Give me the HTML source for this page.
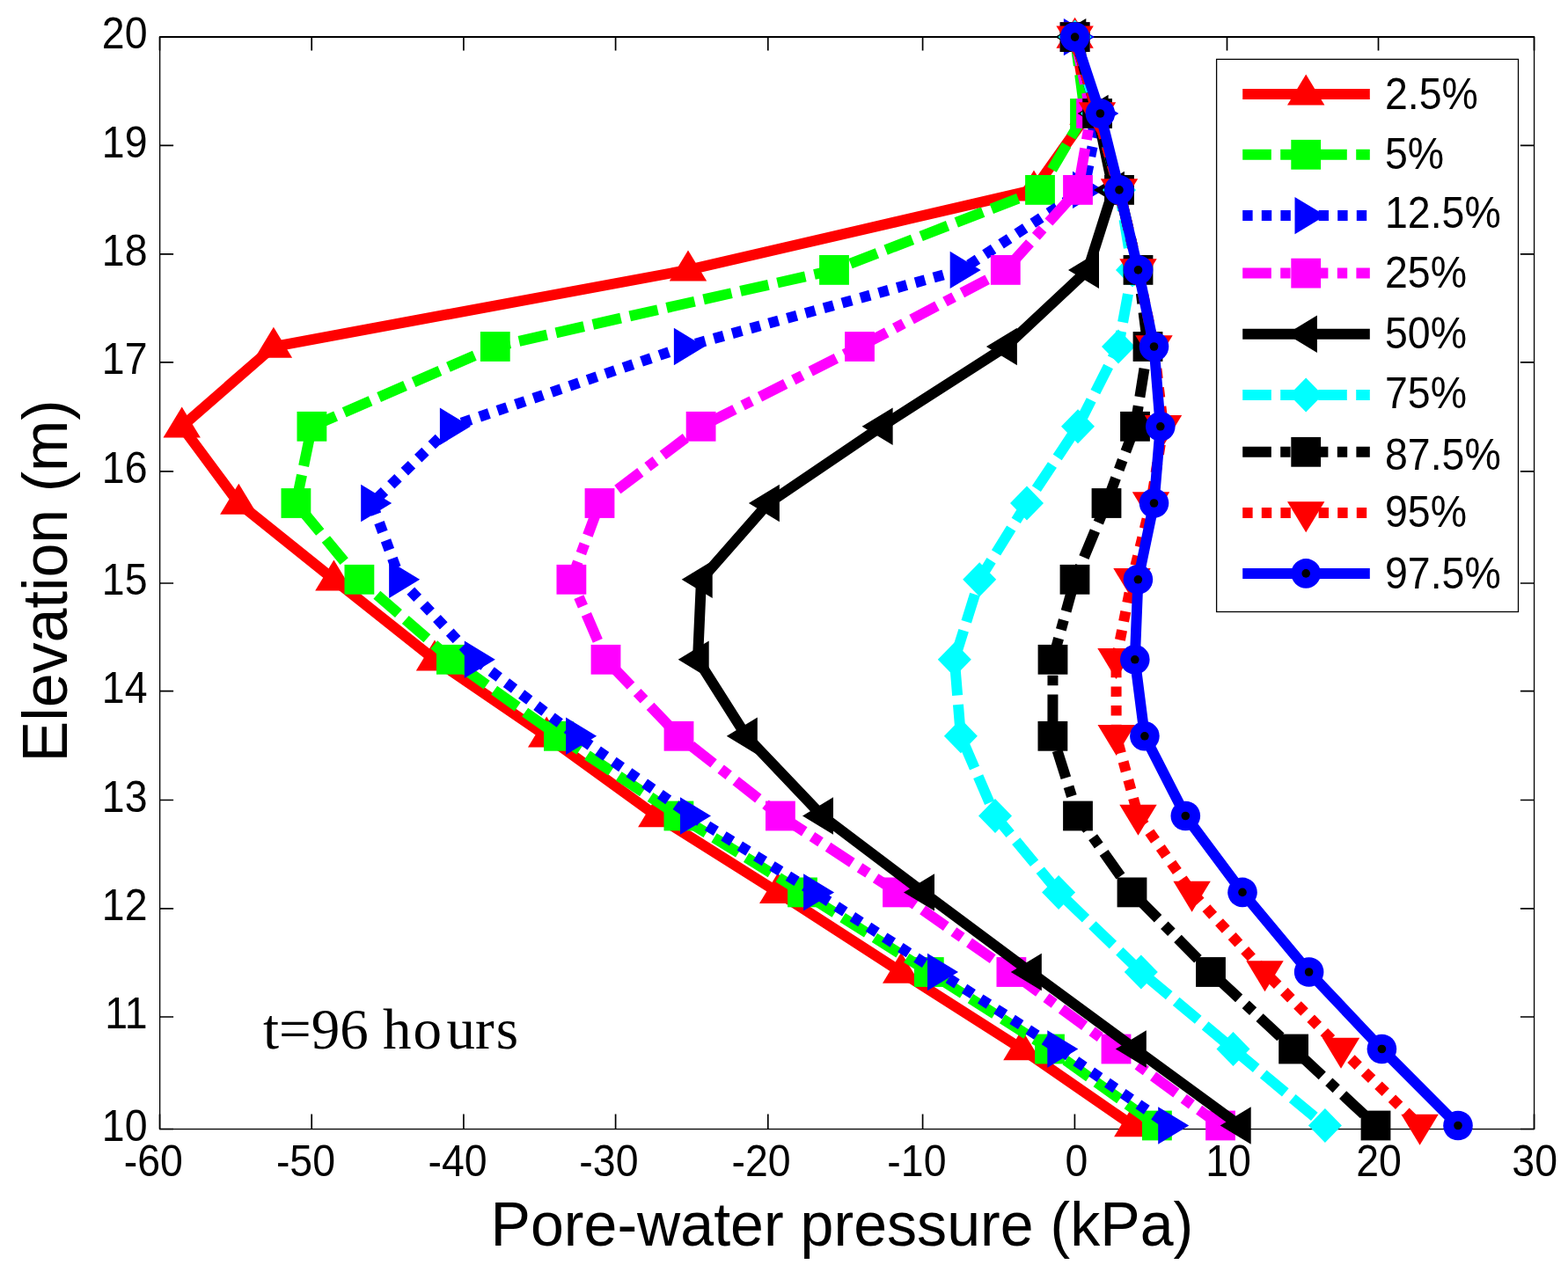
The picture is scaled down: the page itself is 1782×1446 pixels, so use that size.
<!DOCTYPE html><html><head><meta charset="utf-8"><title>Pore-water pressure profile</title><style>html,body{margin:0;padding:0;background:#fff;}svg{display:block;}text{font-family:"Liberation Sans",Arial,Helvetica,sans-serif;fill:#000;}.serif{font-family:"Liberation Serif","Times New Roman",serif;}</style></head><body>
<svg width="1782" height="1446" viewBox="0 0 1782 1446">
<rect x="0" y="0" width="1782" height="1446" fill="#fff"/>
<g fill="#000">
<rect x="181" y="41" width="1563" height="2"/>
<rect x="181" y="41" width="1.3" height="1243"/>
<rect x="1742.9" y="41" width="1.3" height="1243"/>
<rect x="181" y="1282.9" width="1563" height="1.3"/>
</g>
<g stroke="#000" stroke-width="1.7" fill="none">
<path d="M181.5 1283.5V1266.5M181.5 42V57.6"/>
<path d="M354.2 1283.5V1266.5M354.2 42V57.6"/>
<path d="M526.9 1283.5V1266.5M526.9 42V57.6"/>
<path d="M699.6 1283.5V1266.5M699.6 42V57.6"/>
<path d="M872.8 1283.5V1266.5M872.8 42V57.6"/>
<path d="M1048.6 1283.5V1266.5M1048.6 42V57.6"/>
<path d="M1221.4 1283.5V1266.5M1221.4 42V57.6"/>
<path d="M1394.5 1283.5V1266.5M1394.5 42V57.6"/>
<path d="M1566.5 1283.5V1266.5M1566.5 42V57.6"/>
<path d="M1743.5 1283.5V1266.5M1743.5 42V57.6"/>
<path d="M181.5 42H197.1M1743.5 42H1727.9"/>
<path d="M181.5 165.3H197.1M1743.5 165.3H1727.9"/>
<path d="M181.5 288.8H197.1M1743.5 288.8H1727.9"/>
<path d="M181.5 411.8H197.1M1743.5 411.8H1727.9"/>
<path d="M181.5 535.8H197.1M1743.5 535.8H1727.9"/>
<path d="M181.5 663H197.1M1743.5 663H1727.9"/>
<path d="M181.5 785.6H197.1M1743.5 785.6H1727.9"/>
<path d="M181.5 909.5H197.1M1743.5 909.5H1727.9"/>
<path d="M181.5 1032.8H197.1M1743.5 1032.8H1727.9"/>
<path d="M181.5 1156H197.1M1743.5 1156H1727.9"/>
<path d="M181.5 1283.5H197.1M1743.5 1283.5H1727.9"/>
</g>
<text transform="translate(174.35 1336.8) scale(0.946 1)" font-size="49.1" text-anchor="middle">-60</text>
<text transform="translate(347.45 1336.8) scale(0.946 1)" font-size="49.1" text-anchor="middle">-50</text>
<text transform="translate(520 1336.8) scale(0.946 1)" font-size="49.1" text-anchor="middle">-40</text>
<text transform="translate(691.9 1336.8) scale(0.946 1)" font-size="49.1" text-anchor="middle">-30</text>
<text transform="translate(865 1336.8) scale(0.946 1)" font-size="49.1" text-anchor="middle">-20</text>
<text transform="translate(1041.9 1336.8) scale(0.946 1)" font-size="49.1" text-anchor="middle">-10</text>
<text transform="translate(1223.5 1336.8) scale(0.946 1)" font-size="49.1" text-anchor="middle">0</text>
<text transform="translate(1396.1 1336.8) scale(0.946 1)" font-size="49.1" text-anchor="middle">10</text>
<text transform="translate(1567 1336.8) scale(0.946 1)" font-size="49.1" text-anchor="middle">20</text>
<text transform="translate(1744.2 1336.8) scale(0.946 1)" font-size="49.1" text-anchor="middle">30</text>
<text transform="translate(167.5 1296.7) scale(0.946 1)" font-size="49.1" text-anchor="end">10</text>
<text transform="translate(167.5 1169.2) scale(0.946 1)" font-size="49.1" text-anchor="end">11</text>
<text transform="translate(167.5 1046) scale(0.946 1)" font-size="49.1" text-anchor="end">12</text>
<text transform="translate(167.5 922.7) scale(0.946 1)" font-size="49.1" text-anchor="end">13</text>
<text transform="translate(167.5 798.8) scale(0.946 1)" font-size="49.1" text-anchor="end">14</text>
<text transform="translate(167.5 676.2) scale(0.946 1)" font-size="49.1" text-anchor="end">15</text>
<text transform="translate(167.5 549) scale(0.946 1)" font-size="49.1" text-anchor="end">16</text>
<text transform="translate(167.5 425) scale(0.946 1)" font-size="49.1" text-anchor="end">17</text>
<text transform="translate(167.5 302) scale(0.946 1)" font-size="49.1" text-anchor="end">18</text>
<text transform="translate(167.5 178.5) scale(0.946 1)" font-size="49.1" text-anchor="end">19</text>
<text transform="translate(167.5 55.2) scale(0.946 1)" font-size="49.1" text-anchor="end">20</text>
<polyline points="1221.6,42.1 1236.5,129 1175,215.9 782,306.9 310.9,394 206.7,484.8 271.3,572 379.4,658.8 494,749.8 621.2,836.8 746.3,927.5 884.2,1014.4 1024.2,1105 1161.4,1192.5 1287.3,1279.5" fill="none" stroke="#ff0000" stroke-width="12" stroke-linejoin="miter" stroke-miterlimit="2"/>
<g><polygon points="1221.6,19.8 1200.4,54.8 1242.8,54.8" fill="#ff0000"/><polygon points="1236.5,106.7 1215.3,141.7 1257.7,141.7" fill="#ff0000"/><polygon points="1175,193.6 1153.8,228.6 1196.2,228.6" fill="#ff0000"/><polygon points="782,284.6 760.8,319.6 803.2,319.6" fill="#ff0000"/><polygon points="310.9,371.7 289.7,406.7 332.1,406.7" fill="#ff0000"/><polygon points="206.7,462.5 185.5,497.5 227.9,497.5" fill="#ff0000"/><polygon points="271.3,549.7 250.1,584.7 292.5,584.7" fill="#ff0000"/><polygon points="379.4,636.5 358.2,671.5 400.6,671.5" fill="#ff0000"/><polygon points="494,727.5 472.8,762.5 515.2,762.5" fill="#ff0000"/><polygon points="621.2,814.5 600,849.5 642.4,849.5" fill="#ff0000"/><polygon points="746.3,905.2 725.1,940.2 767.5,940.2" fill="#ff0000"/><polygon points="884.2,992.1 863,1027.1 905.4,1027.1" fill="#ff0000"/><polygon points="1024.2,1082.7 1003,1117.7 1045.4,1117.7" fill="#ff0000"/><polygon points="1161.4,1170.2 1140.2,1205.2 1182.6,1205.2" fill="#ff0000"/><polygon points="1287.3,1257.2 1266.1,1292.2 1308.5,1292.2" fill="#ff0000"/></g>
<polyline points="1221.6,42.1 1233,129 1182,215.9 948,306.9 562.8,394 354.4,484.8 336.4,572 408.4,658.8 512.9,749.8 634.9,836.8 771.4,927.5 912,1014.4 1055.8,1105 1193,1192.5 1314.9,1279.5" fill="none" stroke="#00ff00" stroke-width="12" stroke-linejoin="miter" stroke-miterlimit="2" stroke-dasharray="32.6 10.4"/>
<g><rect x="1204.7" y="25.2" width="33.8" height="33.8" fill="#00ff00"/><rect x="1216.1" y="112.1" width="33.8" height="33.8" fill="#00ff00"/><rect x="1165.1" y="199" width="33.8" height="33.8" fill="#00ff00"/><rect x="931.1" y="290" width="33.8" height="33.8" fill="#00ff00"/><rect x="545.9" y="377.1" width="33.8" height="33.8" fill="#00ff00"/><rect x="337.5" y="467.9" width="33.8" height="33.8" fill="#00ff00"/><rect x="319.5" y="555.1" width="33.8" height="33.8" fill="#00ff00"/><rect x="391.5" y="641.9" width="33.8" height="33.8" fill="#00ff00"/><rect x="496" y="732.9" width="33.8" height="33.8" fill="#00ff00"/><rect x="618" y="819.9" width="33.8" height="33.8" fill="#00ff00"/><rect x="754.5" y="910.6" width="33.8" height="33.8" fill="#00ff00"/><rect x="895.1" y="997.5" width="33.8" height="33.8" fill="#00ff00"/><rect x="1038.9" y="1088.1" width="33.8" height="33.8" fill="#00ff00"/><rect x="1176.1" y="1175.6" width="33.8" height="33.8" fill="#00ff00"/><rect x="1298" y="1262.6" width="33.8" height="33.8" fill="#00ff00"/></g>
<polyline points="1221.6,42.1 1249.1,129 1231.7,215.9 1092.4,306.9 778.6,394 512.6,484.8 422.9,572 454.8,658.8 540.5,749.8 655.8,836.8 785.7,927.5 925.8,1014.4 1066.7,1105 1203,1192.5 1328.9,1279.5" fill="none" stroke="#0000ff" stroke-width="12" stroke-linejoin="miter" stroke-miterlimit="2" stroke-dasharray="11.4 10.2"/>
<g><polygon points="1243.9,42.1 1208.9,20.9 1208.9,63.3" fill="#0000ff"/><polygon points="1271.4,129 1236.4,107.8 1236.4,150.2" fill="#0000ff"/><polygon points="1254,215.9 1219,194.7 1219,237.1" fill="#0000ff"/><polygon points="1114.7,306.9 1079.7,285.7 1079.7,328.1" fill="#0000ff"/><polygon points="800.9,394 765.9,372.8 765.9,415.2" fill="#0000ff"/><polygon points="534.9,484.8 499.9,463.6 499.9,506" fill="#0000ff"/><polygon points="445.2,572 410.2,550.8 410.2,593.2" fill="#0000ff"/><polygon points="477.1,658.8 442.1,637.6 442.1,680" fill="#0000ff"/><polygon points="562.8,749.8 527.8,728.6 527.8,771" fill="#0000ff"/><polygon points="678.1,836.8 643.1,815.6 643.1,858" fill="#0000ff"/><polygon points="808,927.5 773,906.3 773,948.7" fill="#0000ff"/><polygon points="948.1,1014.4 913.1,993.2 913.1,1035.6" fill="#0000ff"/><polygon points="1089,1105 1054,1083.8 1054,1126.2" fill="#0000ff"/><polygon points="1225.3,1192.5 1190.3,1171.3 1190.3,1213.7" fill="#0000ff"/><polygon points="1351.2,1279.5 1316.2,1258.3 1316.2,1300.7" fill="#0000ff"/></g>
<polyline points="1221.6,42.1 1240.1,129 1225,215.9 1142.8,306.9 977,394 796.6,484.8 681.5,572 649.4,658.8 688.5,749.8 771.5,836.8 886.9,927.5 1020,1014.4 1149.4,1105 1268.5,1192.5 1387,1279.5" fill="none" stroke="#ff00ff" stroke-width="12" stroke-linejoin="miter" stroke-miterlimit="2" stroke-dasharray="32.6 10.4 11.4 10.2"/>
<g><rect x="1204.7" y="25.2" width="33.8" height="33.8" fill="#ff00ff"/><rect x="1223.2" y="112.1" width="33.8" height="33.8" fill="#ff00ff"/><rect x="1208.1" y="199" width="33.8" height="33.8" fill="#ff00ff"/><rect x="1125.9" y="290" width="33.8" height="33.8" fill="#ff00ff"/><rect x="960.1" y="377.1" width="33.8" height="33.8" fill="#ff00ff"/><rect x="779.7" y="467.9" width="33.8" height="33.8" fill="#ff00ff"/><rect x="664.6" y="555.1" width="33.8" height="33.8" fill="#ff00ff"/><rect x="632.5" y="641.9" width="33.8" height="33.8" fill="#ff00ff"/><rect x="671.6" y="732.9" width="33.8" height="33.8" fill="#ff00ff"/><rect x="754.6" y="819.9" width="33.8" height="33.8" fill="#ff00ff"/><rect x="870" y="910.6" width="33.8" height="33.8" fill="#ff00ff"/><rect x="1003.1" y="997.5" width="33.8" height="33.8" fill="#ff00ff"/><rect x="1132.5" y="1088.1" width="33.8" height="33.8" fill="#ff00ff"/><rect x="1251.6" y="1175.6" width="33.8" height="33.8" fill="#ff00ff"/><rect x="1370.1" y="1262.6" width="33.8" height="33.8" fill="#ff00ff"/></g>
<polyline points="1221.6,42.1 1246.9,129 1265.2,215.9 1236.3,306.9 1143.2,394 1001.9,484.8 873.2,572 797,658.8 793,749.8 848.1,836.8 934.3,927.5 1049.3,1014.4 1171.1,1105 1290.1,1192.5 1409,1279.5" fill="none" stroke="#000000" stroke-width="12" stroke-linejoin="miter" stroke-miterlimit="2"/>
<g><polygon points="1199.3,42.1 1234.3,20.9 1234.3,63.3" fill="#000000"/><polygon points="1224.6,129 1259.6,107.8 1259.6,150.2" fill="#000000"/><polygon points="1242.9,215.9 1277.9,194.7 1277.9,237.1" fill="#000000"/><polygon points="1214,306.9 1249,285.7 1249,328.1" fill="#000000"/><polygon points="1120.9,394 1155.9,372.8 1155.9,415.2" fill="#000000"/><polygon points="979.6,484.8 1014.6,463.6 1014.6,506" fill="#000000"/><polygon points="850.9,572 885.9,550.8 885.9,593.2" fill="#000000"/><polygon points="774.7,658.8 809.7,637.6 809.7,680" fill="#000000"/><polygon points="770.7,749.8 805.7,728.6 805.7,771" fill="#000000"/><polygon points="825.8,836.8 860.8,815.6 860.8,858" fill="#000000"/><polygon points="912,927.5 947,906.3 947,948.7" fill="#000000"/><polygon points="1027,1014.4 1062,993.2 1062,1035.6" fill="#000000"/><polygon points="1148.8,1105 1183.8,1083.8 1183.8,1126.2" fill="#000000"/><polygon points="1267.8,1192.5 1302.8,1171.3 1302.8,1213.7" fill="#000000"/><polygon points="1386.7,1279.5 1421.7,1258.3 1421.7,1300.7" fill="#000000"/></g>
<polyline points="1221.6,42.1 1247,129 1272,215.9 1287,306.9 1271,394 1225,484.8 1167,572 1113.2,658.8 1084.8,749.8 1091.9,836.8 1131,927.5 1203.1,1014.4 1296.8,1105 1401.5,1192.5 1505.9,1279.5" fill="none" stroke="#00ffff" stroke-width="12" stroke-linejoin="miter" stroke-miterlimit="2" stroke-dasharray="32.6 10.4"/>
<g><polygon points="1221.6,22.6 1240.6,42.1 1221.6,61.6 1202.6,42.1" fill="#00ffff"/><polygon points="1247,109.5 1266,129 1247,148.5 1228,129" fill="#00ffff"/><polygon points="1272,196.4 1291,215.9 1272,235.4 1253,215.9" fill="#00ffff"/><polygon points="1287,287.4 1306,306.9 1287,326.4 1268,306.9" fill="#00ffff"/><polygon points="1271,374.5 1290,394 1271,413.5 1252,394" fill="#00ffff"/><polygon points="1225,465.3 1244,484.8 1225,504.3 1206,484.8" fill="#00ffff"/><polygon points="1167,552.5 1186,572 1167,591.5 1148,572" fill="#00ffff"/><polygon points="1113.2,639.3 1132.2,658.8 1113.2,678.3 1094.2,658.8" fill="#00ffff"/><polygon points="1084.8,730.3 1103.8,749.8 1084.8,769.3 1065.8,749.8" fill="#00ffff"/><polygon points="1091.9,817.3 1110.9,836.8 1091.9,856.3 1072.9,836.8" fill="#00ffff"/><polygon points="1131,908 1150,927.5 1131,947 1112,927.5" fill="#00ffff"/><polygon points="1203.1,994.9 1222.1,1014.4 1203.1,1033.9 1184.1,1014.4" fill="#00ffff"/><polygon points="1296.8,1085.5 1315.8,1105 1296.8,1124.5 1277.8,1105" fill="#00ffff"/><polygon points="1401.5,1173 1420.5,1192.5 1401.5,1212 1382.5,1192.5" fill="#00ffff"/><polygon points="1505.9,1260 1524.9,1279.5 1505.9,1299 1486.9,1279.5" fill="#00ffff"/></g>
<polyline points="1221.6,42.1 1247.1,129 1272,215.9 1293.5,306.9 1304.5,394 1290,484.8 1257.5,572 1221.5,658.8 1196.5,749.8 1196.4,836.8 1225,927.5 1286.5,1014.4 1376,1105 1470.1,1192.5 1563.5,1279.5" fill="none" stroke="#000000" stroke-width="12" stroke-linejoin="miter" stroke-miterlimit="2" stroke-dasharray="32.6 10.4 11.4 10.2"/>
<g><rect x="1204.7" y="25.2" width="33.8" height="33.8" fill="#000000"/><rect x="1230.2" y="112.1" width="33.8" height="33.8" fill="#000000"/><rect x="1255.1" y="199" width="33.8" height="33.8" fill="#000000"/><rect x="1276.6" y="290" width="33.8" height="33.8" fill="#000000"/><rect x="1287.6" y="377.1" width="33.8" height="33.8" fill="#000000"/><rect x="1273.1" y="467.9" width="33.8" height="33.8" fill="#000000"/><rect x="1240.6" y="555.1" width="33.8" height="33.8" fill="#000000"/><rect x="1204.6" y="641.9" width="33.8" height="33.8" fill="#000000"/><rect x="1179.6" y="732.9" width="33.8" height="33.8" fill="#000000"/><rect x="1179.5" y="819.9" width="33.8" height="33.8" fill="#000000"/><rect x="1208.1" y="910.6" width="33.8" height="33.8" fill="#000000"/><rect x="1269.6" y="997.5" width="33.8" height="33.8" fill="#000000"/><rect x="1359.1" y="1088.1" width="33.8" height="33.8" fill="#000000"/><rect x="1453.2" y="1175.6" width="33.8" height="33.8" fill="#000000"/><rect x="1546.6" y="1262.6" width="33.8" height="33.8" fill="#000000"/></g>
<polyline points="1221.6,42.1 1247,129 1272,215.9 1293.5,306.9 1311.5,394 1322,484.8 1308,572 1286.5,658.8 1268.5,749.8 1268.7,836.8 1293.5,927.5 1354.6,1014.4 1437.5,1105 1524,1192.5 1613.6,1279.5" fill="none" stroke="#ff0000" stroke-width="12" stroke-linejoin="miter" stroke-miterlimit="2" stroke-dasharray="11.4 10.2"/>
<g><polygon points="1221.6,64.4 1200.4,29.4 1242.8,29.4" fill="#ff0000"/><polygon points="1247,151.3 1225.8,116.3 1268.2,116.3" fill="#ff0000"/><polygon points="1272,238.2 1250.8,203.2 1293.2,203.2" fill="#ff0000"/><polygon points="1293.5,329.2 1272.3,294.2 1314.7,294.2" fill="#ff0000"/><polygon points="1311.5,416.3 1290.3,381.3 1332.7,381.3" fill="#ff0000"/><polygon points="1322,507.1 1300.8,472.1 1343.2,472.1" fill="#ff0000"/><polygon points="1308,594.3 1286.8,559.3 1329.2,559.3" fill="#ff0000"/><polygon points="1286.5,681.1 1265.3,646.1 1307.7,646.1" fill="#ff0000"/><polygon points="1268.5,772.1 1247.3,737.1 1289.7,737.1" fill="#ff0000"/><polygon points="1268.7,859.1 1247.5,824.1 1289.9,824.1" fill="#ff0000"/><polygon points="1293.5,949.8 1272.3,914.8 1314.7,914.8" fill="#ff0000"/><polygon points="1354.6,1036.7 1333.4,1001.7 1375.8,1001.7" fill="#ff0000"/><polygon points="1437.5,1127.3 1416.3,1092.3 1458.7,1092.3" fill="#ff0000"/><polygon points="1524,1214.8 1502.8,1179.8 1545.2,1179.8" fill="#ff0000"/><polygon points="1613.6,1301.8 1592.4,1266.8 1634.8,1266.8" fill="#ff0000"/></g>
<polyline points="1221.6,42.1 1250.4,129 1272,215.9 1293.5,306.9 1311.5,394 1318.8,484.8 1311.5,572 1293.4,658.8 1289.8,749.8 1300.9,836.8 1347.3,927.5 1412,1014.4 1487.6,1105 1570.4,1192.5 1657,1279.5" fill="none" stroke="#0000ff" stroke-width="12" stroke-linejoin="miter" stroke-miterlimit="2"/>
<g><circle cx="1221.6" cy="42.1" r="16.8" fill="#0000ff"/><circle cx="1221.6" cy="42.1" r="4.8" fill="#000"/><circle cx="1250.4" cy="129" r="16.8" fill="#0000ff"/><circle cx="1250.4" cy="129" r="4.8" fill="#000"/><circle cx="1272" cy="215.9" r="16.8" fill="#0000ff"/><circle cx="1272" cy="215.9" r="4.8" fill="#000"/><circle cx="1293.5" cy="306.9" r="16.8" fill="#0000ff"/><circle cx="1293.5" cy="306.9" r="4.8" fill="#000"/><circle cx="1311.5" cy="394" r="16.8" fill="#0000ff"/><circle cx="1311.5" cy="394" r="4.8" fill="#000"/><circle cx="1318.8" cy="484.8" r="16.8" fill="#0000ff"/><circle cx="1318.8" cy="484.8" r="4.8" fill="#000"/><circle cx="1311.5" cy="572" r="16.8" fill="#0000ff"/><circle cx="1311.5" cy="572" r="4.8" fill="#000"/><circle cx="1293.4" cy="658.8" r="16.8" fill="#0000ff"/><circle cx="1293.4" cy="658.8" r="4.8" fill="#000"/><circle cx="1289.8" cy="749.8" r="16.8" fill="#0000ff"/><circle cx="1289.8" cy="749.8" r="4.8" fill="#000"/><circle cx="1300.9" cy="836.8" r="16.8" fill="#0000ff"/><circle cx="1300.9" cy="836.8" r="4.8" fill="#000"/><circle cx="1347.3" cy="927.5" r="16.8" fill="#0000ff"/><circle cx="1347.3" cy="927.5" r="4.8" fill="#000"/><circle cx="1412" cy="1014.4" r="16.8" fill="#0000ff"/><circle cx="1412" cy="1014.4" r="4.8" fill="#000"/><circle cx="1487.6" cy="1105" r="16.8" fill="#0000ff"/><circle cx="1487.6" cy="1105" r="4.8" fill="#000"/><circle cx="1570.4" cy="1192.5" r="16.8" fill="#0000ff"/><circle cx="1570.4" cy="1192.5" r="4.8" fill="#000"/><circle cx="1657" cy="1279.5" r="16.8" fill="#0000ff"/><circle cx="1657" cy="1279.5" r="4.8" fill="#000"/></g>
<rect x="1382.6" y="67.4" width="342.9" height="628.1" fill="#fff" stroke="#000" stroke-width="1.3"/>
<line x1="1412.2" y1="106.9" x2="1556.8" y2="106.9" stroke="#ff0000" stroke-width="12"/>
<polygon points="1484.2,84.6 1463,119.6 1505.4,119.6" fill="#ff0000"/>
<text transform="translate(1574 124) scale(0.946 1)" font-size="49.1">2.5%</text>
<line x1="1412.2" y1="175.8" x2="1556.8" y2="175.8" stroke="#00ff00" stroke-width="12" stroke-dasharray="32.6 10.4"/>
<rect x="1467.3" y="158.9" width="33.8" height="33.8" fill="#00ff00"/>
<text transform="translate(1574 192.4) scale(0.946 1)" font-size="49.1">5%</text>
<line x1="1412.2" y1="245.1" x2="1556.8" y2="245.1" stroke="#0000ff" stroke-width="12" stroke-dasharray="11.4 10.2"/>
<polygon points="1506.5,245.1 1471.5,223.9 1471.5,266.3" fill="#0000ff"/>
<text transform="translate(1574 258.5) scale(0.946 1)" font-size="49.1">12.5%</text>
<line x1="1412.2" y1="310.6" x2="1556.8" y2="310.6" stroke="#ff00ff" stroke-width="12" stroke-dasharray="32.6 10.4 11.4 10.2"/>
<rect x="1467.3" y="293.7" width="33.8" height="33.8" fill="#ff00ff"/>
<text transform="translate(1574 326.7) scale(0.946 1)" font-size="49.1">25%</text>
<line x1="1412.2" y1="379.7" x2="1556.8" y2="379.7" stroke="#000000" stroke-width="12"/>
<polygon points="1461.9,379.7 1496.9,358.5 1496.9,400.9" fill="#000000"/>
<text transform="translate(1574 395.6) scale(0.946 1)" font-size="49.1">50%</text>
<line x1="1412.2" y1="449" x2="1556.8" y2="449" stroke="#00ffff" stroke-width="12" stroke-dasharray="32.6 10.4"/>
<polygon points="1484.2,429.5 1503.2,449 1484.2,468.5 1465.2,449" fill="#00ffff"/>
<text transform="translate(1574 464.3) scale(0.946 1)" font-size="49.1">75%</text>
<line x1="1412.2" y1="513.8" x2="1556.8" y2="513.8" stroke="#000000" stroke-width="12" stroke-dasharray="32.6 10.4 11.4 10.2"/>
<rect x="1467.3" y="496.9" width="33.8" height="33.8" fill="#000000"/>
<text transform="translate(1574 533.6) scale(0.946 1)" font-size="49.1">87.5%</text>
<line x1="1412.2" y1="582.9" x2="1556.8" y2="582.9" stroke="#ff0000" stroke-width="12" stroke-dasharray="11.4 10.2"/>
<polygon points="1484.2,605.2 1463,570.2 1505.4,570.2" fill="#ff0000"/>
<text transform="translate(1574 599.3) scale(0.946 1)" font-size="49.1">95%</text>
<line x1="1412.2" y1="651.9" x2="1556.8" y2="651.9" stroke="#0000ff" stroke-width="12"/>
<circle cx="1484.2" cy="651.9" r="16.8" fill="#0000ff"/><circle cx="1484.2" cy="651.9" r="4.8" fill="#000"/>
<text transform="translate(1574 668.5) scale(0.946 1)" font-size="49.1">97.5%</text>
<text transform="translate(557.5 1416.3) scale(0.961 1)" font-size="70.9">Pore-water pressure (kPa)</text>
<text transform="translate(76 866.5) rotate(-90) scale(0.961 1)" font-size="72.8">Elevation (m)</text>
<text class="serif" x="299" y="1192" font-size="65" dx="0 0 0 0 0 0 1.9 5.7 0 1.9">t=96 hours</text>
</svg></body></html>
